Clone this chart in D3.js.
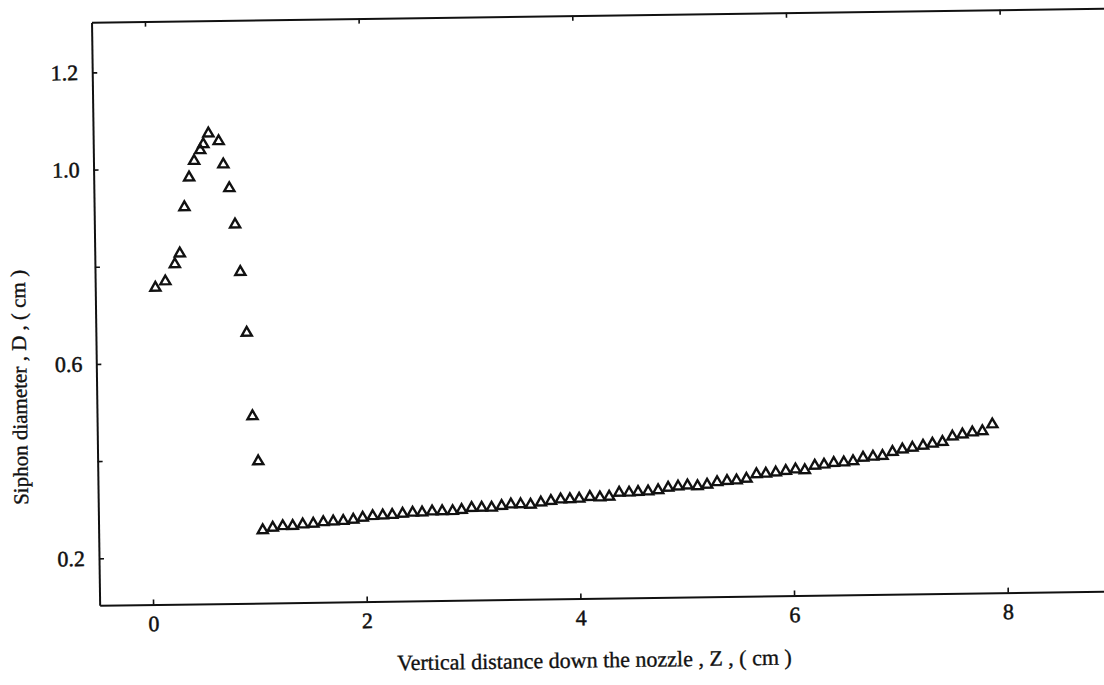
<!DOCTYPE html>
<html>
<head>
<meta charset="utf-8">
<script src="https://cdn.jsdelivr.net/npm/d3@7"></script>
<style>
  body { margin: 0; background: #fff; }
  text { font-family: "Liberation Serif", "Times New Roman", serif; fill: #111; }
</style>
</head>
<body>
<div id="chart"></div>
<script>
// Siphon diameter D (cm) against vertical distance Z (cm)

// first group: the bulge near the nozzle exit
var peakZ = [0.063, 0.157, 0.248, 0.296, 0.345, 0.393, 0.442, 0.500, 0.530,
  0.579, 0.674, 0.715, 0.768, 0.817, 0.860, 0.912, 0.955, 1.003];
var peakD = [0.755, 0.768, 0.803, 0.825, 0.920, 0.981, 1.015, 1.037, 1.049,
  1.071, 1.055, 1.007, 0.958, 0.883, 0.785, 0.660, 0.488, 0.395];

// second group: the slowly widening siphon
var tailZ = [1.036, 1.130, 1.224, 1.317, 1.411, 1.510, 1.604, 1.697, 1.791, 1.885,
  1.973, 2.067, 2.161, 2.250, 2.347, 2.441, 2.530, 2.624, 2.718, 2.816,
  2.900, 2.994, 3.088, 3.181, 3.275, 3.362, 3.453, 3.546, 3.643, 3.737,
  3.828, 3.915, 4.002, 4.102, 4.196, 4.283, 4.377, 4.470, 4.554, 4.648,
  4.742, 4.836, 4.929, 5.017, 5.111, 5.201, 5.295, 5.388, 5.477, 5.570,
  5.664, 5.752, 5.845, 5.939, 6.030, 6.117, 6.211, 6.298, 6.389, 6.483,
  6.570, 6.664, 6.757, 6.846, 6.940, 7.033, 7.127, 7.227, 7.315, 7.409,
  7.503, 7.597, 7.690, 7.784, 7.878];
var tailD = [0.253, 0.258, 0.261, 0.261, 0.264, 0.265, 0.268, 0.269, 0.270, 0.272,
  0.276, 0.279, 0.280, 0.281, 0.283, 0.285, 0.285, 0.287, 0.287, 0.287,
  0.289, 0.293, 0.293, 0.293, 0.296, 0.299, 0.299, 0.298, 0.302, 0.305,
  0.308, 0.308, 0.309, 0.312, 0.311, 0.312, 0.320, 0.320, 0.321, 0.322,
  0.324, 0.329, 0.331, 0.333, 0.331, 0.334, 0.339, 0.341, 0.342, 0.345,
  0.354, 0.355, 0.357, 0.360, 0.363, 0.361, 0.370, 0.372, 0.375, 0.376,
  0.378, 0.385, 0.387, 0.388, 0.396, 0.401, 0.404, 0.408, 0.412, 0.415,
  0.426, 0.430, 0.434, 0.436, 0.450];

var xTicks = [0, 2, 4, 6, 8];
var yTicks = [0.2, 0.4, 0.6, 0.8, 1.0, 1.2];
var yLabelled = [0.2, 0.6, 1.0, 1.2];

var xTitle = "Vertical distance down the nozzle ,  Z ,  ( cm )";
var yTitle = "Siphon diameter ,  D ,  ( cm )";

var W = 1104, H = 685;
var box = {left: 96, top: 16, right: 1111, bottom: 599};

var svg = d3.select("#chart").append("svg")
  .attr("width", W)
  .attr("height", H)
  .style("background", "#fff");

// the page was scanned a little crooked
var g = svg.append("g").attr("transform", "rotate(-0.8,550,340)");

var x = d3.scaleLinear().domain([-0.5, 9.0]).range([box.left, box.right]);
var y = d3.scaleLinear().domain([0.1033, 1.303]).range([box.bottom, box.top]);

var xAxis = d3.axisBottom(x).tickValues(xTicks)
  .tickSizeInner(-5).tickSizeOuter(0).tickPadding(11)
  .tickFormat(d3.format("d"));
var xTop = d3.axisTop(x).tickValues(xTicks)
  .tickSizeInner(-5).tickSizeOuter(0).tickFormat("");
var yAxis = d3.axisLeft(y).tickValues(yTicks)
  .tickSizeInner(-5).tickSizeOuter(0).tickPadding(14)
  .tickFormat(function(d){
    var hit = yLabelled.some(function(v){ return Math.abs(v - d) < 1e-6; });
    return hit ? d3.format(".1f")(d) : "";
  });

g.append("g").attr("class", "x_axis")
  .attr("transform", "translate(0," + box.bottom + ")")
  .call(xAxis);
g.append("g").attr("class", "x_top")
  .attr("transform", "translate(0," + box.top + ")")
  .call(xTop);
g.append("g").attr("class", "y_axis")
  .attr("transform", "translate(" + box.left + ",0)")
  .call(yAxis);

g.selectAll(".domain").attr("stroke", "#111").attr("stroke-width", 2);
g.selectAll(".tick line").attr("stroke", "#111").attr("stroke-width", 1.6);
g.selectAll(".tick text")
  .style("font-family", "'Liberation Serif', serif")
  .style("font-size", "22px")
  .attr("fill", "#111")
  .attr("stroke", "#111")
  .attr("stroke-width", 0.5);

g.append("text")
  .attr("x", 590)
  .attr("y", 668)
  .style("text-anchor", "middle")
  .style("font-size", "22px")
  .attr("stroke", "#111")
  .attr("stroke-width", 0.35)
  .text(xTitle);

g.append("text")
  .attr("transform", "rotate(-90)")
  .attr("x", -380)
  .attr("y", 26)
  .style("text-anchor", "middle")
  .style("font-size", "21px")
  .attr("stroke", "#111")
  .attr("stroke-width", 0.35)
  .text(yTitle);

var pts = [];
peakZ.forEach(function(z, i){ pts.push({z: z, d: peakD[i]}); });
tailZ.forEach(function(z, i){ pts.push({z: z, d: tailD[i]}); });

var tri = d3.symbol().type(d3.symbolTriangle).size(44);

g.append("g").attr("class", "points")
  .selectAll("path")
  .data(pts).enter()
  .append("path")
  .attr("d", tri)
  .attr("transform", function(d){ return "translate(" + x(d.z) + "," + y(d.d) + ")"; })
  .style("fill", "none")
  .style("stroke", "#111")
  .style("stroke-width", "2.4px");
</script>
</body>
</html>
